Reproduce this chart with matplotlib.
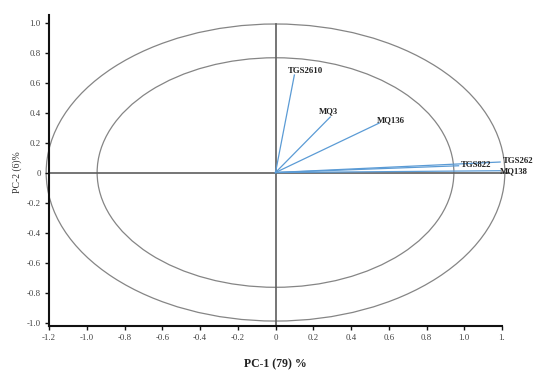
import matplotlib
matplotlib.use("Agg")
import matplotlib.pyplot as plt
from matplotlib.patches import Ellipse

# Loadings (PC-1, PC-2)
sensors = ["TGS2610", "MQ3", "MQ136", "TGS822", "TGS262", "MQ138"]
pc1 = [0.10, 0.29, 0.55, 0.97, 1.19, 1.19]
pc2 = [0.65, 0.37, 0.33, 0.045, 0.07, 0.012]

xticks = [-1.2, -1.0, -0.8, -0.6, -0.4, -0.2, 0, 0.2, 0.4, 0.6, 0.8, 1.0, 1.2]
xticklabels = ["-1.2", "-1.0", "-0.8", "-0.6", "-0.4", "-0.2", "0", "0.2", "0.4", "0.6", "0.8", "1.0", "1."]
yticks = [-1.0, -0.8, -0.6, -0.4, -0.2, 0, 0.2, 0.4, 0.6, 0.8, 1.0]
yticklabels = ["-1.0", "-0.8", "-0.6", "-0.4", "-0.2", "0", "0.2", "0.4", "0.6", "0.8", "1.0"]

# label offsets (points) and alignment
label_style = {
    "TGS2610": ((-5, 3), "left", "center"),
    "MQ3": ((-1, 1), "center", "bottom"),
    "MQ136": ((-2, 2), "left", "center"),
    "TGS822": ((2, 0.5), "left", "center"),
    "TGS262": ((2, 0.5), "left", "center"),
    "MQ138": ((0, -0.5), "left", "center"),
}

plt.rcParams['font.family'] = ['Liberation Serif', 'DejaVu Serif']

fig = plt.figure(figsize=(5.33, 3.74), dpi=100)
ax = fig.add_axes([49/533, (374-326)/374, 453/533, (326-15)/374])
ax.set_xlim(-1.2, 1.2)
ax.set_ylim(-1.023, 1.05)

# ellipses
ax.add_patch(Ellipse((0, 0), 2.43, 1.98, fill=False, edgecolor="#858585", lw=0.9, clip_on=False))
ax.add_patch(Ellipse((0, 0), 1.89, 1.53, fill=False, edgecolor="#858585", lw=0.9, clip_on=False))

# zero lines
ax.plot([-1.2, 1.235], [0, 0], color="#5e5e5e", lw=1.2, clip_on=False, zorder=2)
ax.plot([0, 0], [-1.023, 0.99], color="#5e5e5e", lw=1.2, clip_on=False, zorder=2)

# vectors
for name, x, y in zip(sensors, pc1, pc2):
    ax.plot([0, x], [0, y], color="#5b9bd5", lw=0.9, clip_on=False, zorder=3)
    off, ha, va = label_style[name]
    ax.annotate(name, (x, y), xytext=off, textcoords="offset points",
                ha=ha, va=va, fontsize=6.3, fontweight="bold", color="#222222",
                annotation_clip=False, zorder=4)

for s in ["top", "right"]:
    ax.spines[s].set_visible(False)
for s in ["left", "bottom"]:
    ax.spines[s].set_linewidth(1.5)
    ax.spines[s].set_color("#111111")

ax.set_xticks(xticks)
ax.set_xticklabels(xticklabels)
ax.set_yticks(yticks)
ax.set_yticklabels(yticklabels)
ax.tick_params(axis="both", direction="out", length=3, width=1, labelsize=6.3,
               labelcolor="#404040", color="#111111", pad=3)

fig.text(275/533, 1 - 364/374, "PC-1 (79) %", ha="center", va="center",
         fontsize=8.5, fontweight="bold", color="#222222")
fig.text(17/533, 1 - 172/374, "PC-2 (6)%", ha="center", va="center",
         rotation=90, fontsize=7, color="#333333")

fig.savefig("out.png", dpi=100)
